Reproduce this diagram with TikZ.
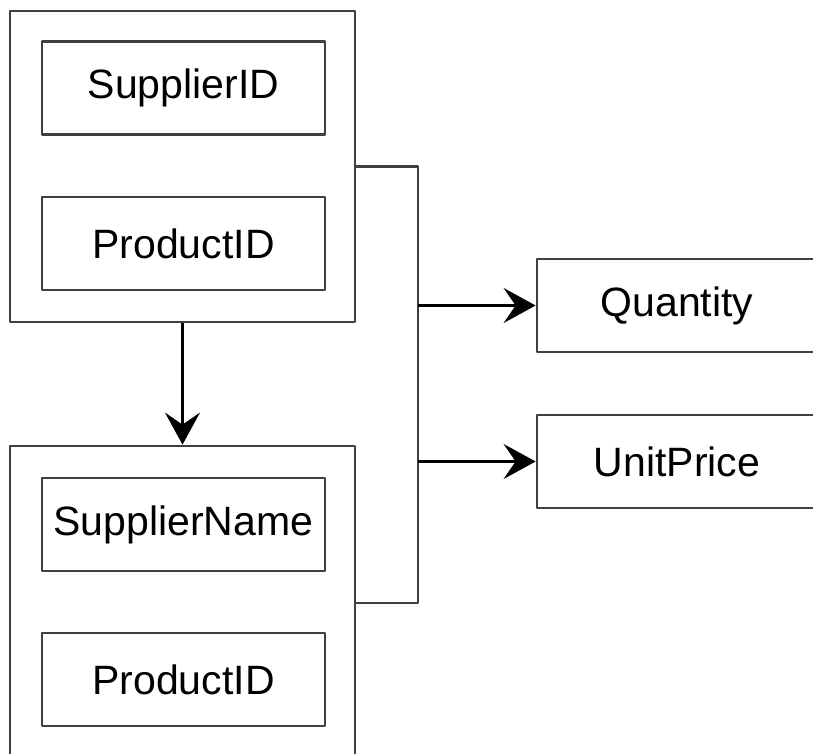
\documentclass[tikz,border=0pt]{standalone}
\usepackage{fontspec}
\setmainfont{Liberation Sans}
\usetikzlibrary{arrows.meta}
\begin{document}
\begin{tikzpicture}[x=1pt, y=-1pt, line join=round, >={Stealth[length=32pt,width=35pt,inset=12pt]},
	table/.style={draw=black!75, line width=2.8pt, minimum width=345pt, inner sep=0pt},
	field/.style={draw=black!75, line width=2.8pt, minimum width=283pt, minimum height=93pt, inner sep=0pt, font=\fontsize{41}{49}\selectfont},
	link/.style={draw=black!75, line width=2.5pt},
	flow/.style={draw=black, line width=2.2pt, ->}]
				\clip (0,0) rectangle (813,754);
				\node[table, minimum height=311pt] (top) at (182.5,166.5) {};
				\node[table, minimum height=314pt] (bottom) at (182.5,603) {};
				\node[field] (supid) at (183.5,88) {SupplierID};
				\node[field] (prodtop) at (183.5,243.5) {ProductID};
				\node[field] (supname) at (183.5,524.5) {SupplierName};
				\node[field] (prodbot) at (183.5,679.5) {ProductID};
				\node[field, minimum width=280pt] (qty) at (677,305.5) {Quantity};
				\node[field, minimum width=280pt] (price) at (677,461.5) {UnitPrice};
				\coordinate (bus) at (418,0);
				\draw[flow] (top.south) -- (bottom.north);
				\draw[link] (top.east) -- (top.east -| bus) -- (bottom.east -| bus) -- (bottom.east);
				\foreach \n in {qty,price}
				\draw[flow] (\n.west -| bus) -- (\n.west);
			\end{tikzpicture}
\end{document}
